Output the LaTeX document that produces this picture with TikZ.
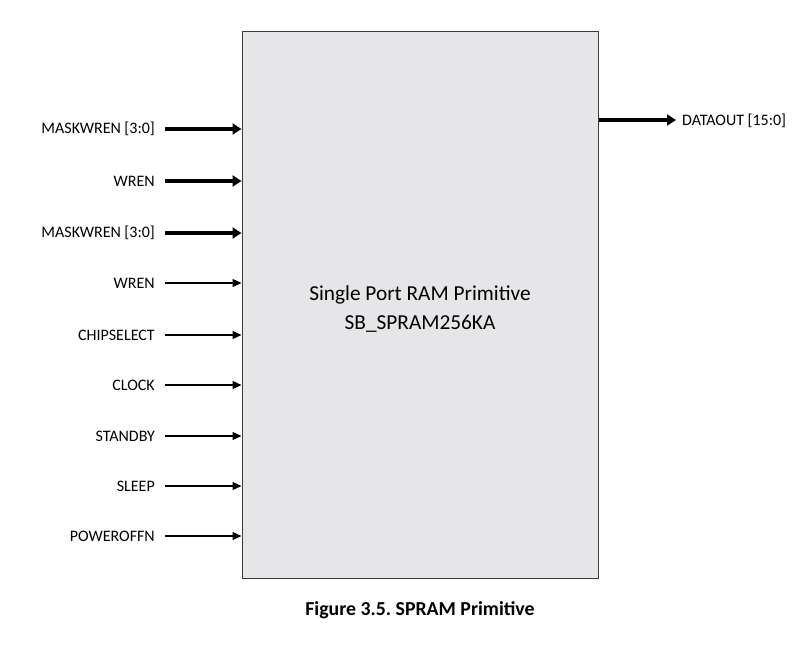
\documentclass[tikz,border=0pt]{standalone}
\usepackage{fontspec}
\setmainfont{Carlito}
\usepackage{tikz}
\usetikzlibrary{positioning}
\usetikzlibrary{arrows.meta}
\frenchspacing

\definecolor{ramfill}{RGB}{230,230,232}
\definecolor{ramedge}{RGB}{60,60,60}

\tikzset{
  pinlabel/.style={anchor=east,inner sep=0pt,font=\fontsize{16}{18}\selectfont},
  busarrow/.style={line width=4pt,-{Triangle[length=9pt,width=11pt]}},
  sigarrow/.style={line width=1.2pt,-{Triangle[length=9pt,width=8pt]}},
}

\begin{document}
\begin{tikzpicture}[x=1pt,y=-1pt]
\useasboundingbox (0,0) rectangle (811,646);

% the primitive
\node (ram) [draw=ramedge,fill=ramfill,line width=1pt,minimum width=356pt,
  minimum height=547pt,inner sep=0pt] at (420,304.5) {};
\node (title) [align=center,font=\fontsize{21.3}{29}\selectfont] at (420,309)
  {Single Port RAM Primitive\\SB\_SPRAM256KA};

% bus inputs
\node (mask1) [pinlabel] at (155,129) {MASKWREN [3:0]};
\node (wren1) [pinlabel] at (155,181) {WREN};
\node (mask2) [pinlabel] at (155,233) {MASKWREN [3:0]};
\foreach \n in {mask1,wren1,mask2}
  \draw[busarrow] ([xshift=10pt]\n.east) -- (\n.east -| ram.west);

% single inputs
\foreach \n/\txt/\y in {wren2/WREN/283,cs/CHIPSELECT/335,clk/CLOCK/385,
                        stby/STANDBY/436,slp/SLEEP/486,poff/POWEROFFN/536}
{
  \node (\n) [pinlabel] at (155,\y) {\txt};
  \draw[sigarrow] ([xshift=10pt]\n.east) -- (\n.east -| ram.west);
}

% output
\coordinate (dout) at (676,120);
\draw[busarrow] (ram.east |- dout) -- (dout);
\node (doutl) [anchor=west,inner sep=0pt,font=\fontsize{16}{18}\selectfont]
  at (682,121) {DATAOUT [15:0]};

\node (cap) [font=\bfseries\fontsize{19.8}{22}\selectfont] at (420,610)
  {Figure 3.5. SPRAM Primitive};
\end{tikzpicture}
\end{document}
